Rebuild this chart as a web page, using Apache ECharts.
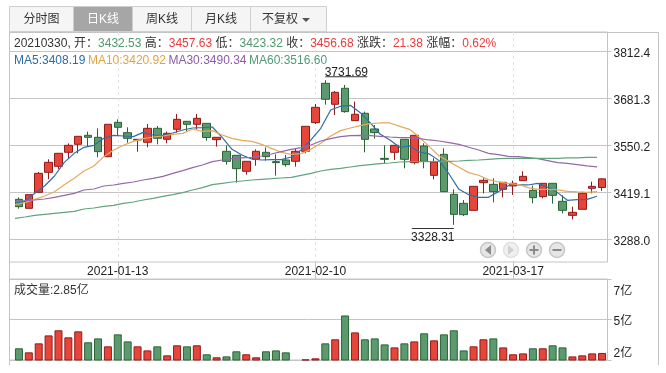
<!DOCTYPE html>
<html>
<head>
<meta charset="utf-8">
<script src="https://cdn.jsdelivr.net/npm/echarts@6/dist/echarts.min.js"></script>
<style>
  html, body { margin: 0; padding: 0; background: #fff; }
  #chart { width: 666px; height: 373px; }
</style>
</head>
<body>
<div id="chart"></div>
<script>
const dates = ["2020-12-29","2020-12-30","2020-12-31","2021-01-04","2021-01-05","2021-01-06","2021-01-07","2021-01-08","2021-01-11","2021-01-12",
  "2021-01-13","2021-01-14","2021-01-15","2021-01-18","2021-01-19","2021-01-20","2021-01-21","2021-01-22","2021-01-25","2021-01-26",
  "2021-01-27","2021-01-28","2021-01-29","2021-02-01","2021-02-02","2021-02-03","2021-02-04","2021-02-05","2021-02-08","2021-02-09",
  "2021-02-10","2021-02-18","2021-02-19","2021-02-22","2021-02-23","2021-02-24","2021-02-25","2021-02-26","2021-03-01","2021-03-02",
  "2021-03-03","2021-03-04","2021-03-05","2021-03-08","2021-03-09","2021-03-10","2021-03-11","2021-03-12","2021-03-15","2021-03-16",
  "2021-03-17","2021-03-18","2021-03-19","2021-03-22","2021-03-23","2021-03-24","2021-03-25","2021-03-26","2021-03-29","2021-03-30"]
const tickDates = ["2021-01-13", "2021-02-10", "2021-03-17"]

const opens = [3399.6,3374.5,3419.1,3474.9,3491.6,3530.7,3553,3578.1,3572.5,3518.6,
  3614.3,3585.5,3565,3558.6,3597.6,3566.9,3594.8,3617.1,3608.8,3611.5,
  3566,3533.5,3522.3,3477.7,3511.2,3530.7,3504.6,3509.3,3505.6,3533.5,
  3613.4,3723.1,3664.6,3709.2,3619,3639.5,3595.8,3513.9,3530.7,3566.9,
  3501.8,3548.3,3466.5,3525.1,3413.5,3388.4,3368.9,3446,3441.4,3427.5,
  3436.8,3451.6,3424.7,3407,3444.2,3394,3354.9,3371.7,3430.3,3432.53]
const closes = [3379.1,3412.6,3472.1,3502.8,3527.9,3550.2,3575.3,3572.5,3532.5,3608.8,
  3600.4,3569.7,3566.9,3597.6,3569.7,3583.7,3622.7,3608.8,3625.5,3572,
  3572.5,3505.6,3485.1,3505.6,3533.5,3518.6,3501.9,3496.3,3533.5,3603.2,
  3656.2,3678.5,3698,3644.1,3636.7,3566.9,3585.5,3511.2,3550.2,3511.2,
  3578.1,3505.6,3503.7,3421,3357.7,3356.8,3435.8,3452.6,3421,3447,
  3444.2,3463.7,3404.2,3444.2,3410.7,3368.9,3363.3,3416.3,3435.8,3456.68]
const lows = [3373.5,3374.5,3419.1,3455.4,3484.2,3513,3527.9,3548.3,3516.7,3516.7,
  3576.2,3557.6,3532.5,3544.6,3553,3555.8,3585.5,3588.3,3594.8,3563.2,
  3546.5,3496.3,3446,3468.4,3493.5,3507.4,3465.6,3490.7,3490.7,3527.9,
  3609.7,3663.6,3634.8,3641.3,3619,3530.7,3568.8,3500,3509.3,3486,
  3497.2,3486,3455.4,3421,3328.31,3353.1,3368.9,3416.3,3391.2,3405.2,
  3411.7,3451.6,3388.4,3402.4,3387.5,3360.5,3343.8,3371.7,3416.3,3423.32]
const highs = [3405.2,3412.6,3475.8,3511.1,3527.9,3555.8,3575.3,3588.3,3597.6,3608.8,
  3622.7,3600.4,3566.9,3609.7,3604.1,3588.3,3637.6,3617.1,3637.6,3611.5,
  3572.5,3550.2,3522.3,3505.6,3539,3544.6,3525,3523.2,3541.8,3603.2,
  3665.5,3731.69,3701.7,3718.5,3672,3644.1,3606.9,3550.2,3550.2,3566.9,
  3578.1,3555.8,3513.9,3541.8,3427.5,3397.7,3435.8,3458.2,3458.2,3447,
  3451.6,3477.7,3437.7,3444.2,3444.2,3410.7,3379.1,3420.9,3448.8,3457.63]

const ma5 = [3388.4,3394,3416.3,3436.7,3464.6,3502.7,3527.8,3544.6,3550.2,3569.7,
  3578.1,3576.2,3574.3,3586.4,3579,3578.1,3584.6,3592.9,3598.5,3599.4,
  3601.3,3572.5,3539,3523.2,3512.1,3509.3,3510.2,3510.2,3517.7,3537.2,
  3565.1,3597.6,3648.7,3659,3661.8,3641.3,3613.4,3581.8,3565.1,3544.6,
  3548.3,3531.6,3526.1,3507.5,3470.3,3427.5,3412.6,3405.2,3405.2,3421,
  3437.7,3439.6,3439.6,3444.2,3433.1,3418.2,3396.8,3398.7,3399.6,3408.19]
const ma10 = [3384.7,3390.3,3399.6,3408.8,3420.9,3440.5,3458.1,3478.6,3492.5,3518.6,
  3537.1,3550.2,3561.3,3568.8,3573.4,3576.2,3580.8,3583.6,3595.7,3589.2,
  3591.1,3579,3569.7,3564.1,3561.3,3553,3541.8,3530.7,3525.1,3527,
  3539,3555.8,3576.2,3591.1,3598.5,3605,3610.6,3612.5,3612.5,3603.2,
  3594.8,3572.5,3546.5,3520.5,3504.7,3488.9,3474,3466.6,3454.5,3448,
  3444.2,3441.5,3432.2,3427.5,3427.5,3425.7,3421.9,3420.1,3419.1,3420.92]
const ma30 = [3394,3395.8,3397.7,3400.5,3405.1,3410.7,3416.3,3425.6,3428.4,3436.7,
  3439.5,3444.2,3447.9,3453.5,3458.1,3463.7,3472.1,3479.5,3487.9,3495.3,
  3504.6,3509.3,3513,3514.9,3516.7,3520.4,3526,3532.5,3539,3543.7,
  3551.1,3562.3,3568.8,3574.4,3577.2,3578.1,3577.2,3575.3,3573.4,3571.6,
  3571.6,3568.8,3565.1,3562.3,3557.7,3553,3544.7,3537.2,3527.9,3524.2,
  3519.6,3518.6,3515.8,3513,3507.5,3501.9,3500,3496.3,3492.6,3490.34]
const ma60 = [3346.6,3350.3,3354.9,3357.7,3360.5,3363.3,3366.1,3372.6,3375.4,3380,
  3382.8,3388.4,3392.1,3397.7,3402.3,3407.9,3412.6,3418.1,3425.6,3432.1,
  3440.5,3444.2,3447.9,3450.7,3453.5,3455.4,3457.2,3459.1,3460.9,3466.5,
  3472.1,3478.6,3483.3,3486,3489.8,3493.5,3496.3,3499.1,3500.9,3503.7,
  3504.6,3504.7,3504.7,3505.6,3505.6,3506.5,3508.4,3509.3,3511.2,3513,
  3514,3514,3514,3514,3514,3514,3514.9,3514.9,3516.8,3516.6]

const volumes = [3.16,2.89,3.49,4.02,4.36,3.89,4.29,3.56,3.82,3.29,
  4.09,3.62,3.29,3.02,3.29,2.69,3.36,3.29,3.36,2.76,
  2.56,2.62,2.96,2.76,2.56,2.96,3.02,2.89,2.4,2.42,
  2.49,3.49,3.76,5.35,4.22,3.76,3.82,3.42,3.22,3.49,
  3.62,4.16,3.69,4.09,4.36,3.02,3.29,3.76,3.82,3.22,
  2.76,2.82,3.16,3.16,3.36,3.22,2.62,2.69,2.82,2.85]

const priceTicks = [3288, 3419.1, 3550.2, 3681.3, 3812.4]
const volumeTicks = [2.38, 5.08, 7.78]
const volumeLabels = [2.85, 5, 7]

const FONT = '"Liberation Sans", "Noto Sans CJK SC", sans-serif'
const RED = "#e64539"
const RED_DARK = "#8f1c1c"
const GREEN = "#5b9a6e"
const GREEN_DARK = "#2a6434"
const LINE = "#c4c4c4"
const TEXT = "#222"
const MA_COLORS = { ma5: "#2f6ea6", ma10: "#e6a85c", ma30: "#9568a9", ma60: "#62a37e" }

const candleData = dates.map((_, i) => [opens[i], closes[i], lows[i], highs[i]])
const volumeData = dates.map((_, i) => {
  const up = closes[i] >= opens[i]
  return {
    value: volumes[i],
    itemStyle: { color: up ? RED : GREEN, borderColor: up ? RED_DARK : GREEN_DARK },
  }
})

const last = dates.length - 1
const infoText = [
  "{k|" + dates[last].replace(/-/g, "") + ", 开：}{g|" + opens[last].toFixed(2) + "}",
  "{k| 高：}{r|" + highs[last].toFixed(2) + "}",
  "{k| 低：}{g|" + lows[last].toFixed(2) + "}",
  "{k| 收：}{r|" + closes[last].toFixed(2) + "}",
  "{k| 涨跌：}{r|21.38}{k| 涨幅：}{r|0.62%}",
].join("")
const maText = [
  "{a|MA5:" + ma5[last].toFixed(2) + "}",
  "{b|MA10:" + ma10[last].toFixed(2) + "}",
  "{c|MA30:" + ma30[last].toFixed(2) + "}",
  "{d|MA60:" + ma60[last].toFixed(2) + "}",
].join("")

const richStyle = (color, gap) => ({
  color,
  fontSize: 12,
  fontWeight: "normal",
  fontFamily: FONT,
  padding: [0, gap || 0, 0, 0],
})

// tabs above the chart
const tabs = [
  { name: "分时图", x: 9.5, w: 64 },
  { name: "日K线", x: 73.5, w: 59, active: true },
  { name: "周K线", x: 132.5, w: 59 },
  { name: "月K线", x: 191.5, w: 59 },
  { name: "不复权", x: 250.5, w: 76, tx: 280 },
]
const tabGraphics = []
tabs.forEach((t) => {
  tabGraphics.push({
    type: "rect",
    shape: { x: t.x, y: 6.5, width: t.w, height: 25 },
    style: { fill: t.active ? "#a6a6a6" : "#f5f5f5", stroke: "#cfcfcf", lineWidth: 1 },
    silent: true,
  })
  tabGraphics.push({
    type: "text",
    x: t.tx || t.x + t.w / 2,
    y: 20,
    style: {
      text: t.name,
      fill: t.active ? "#fff" : "#333",
      font: "12px " + FONT,
      textAlign: "center",
      textVerticalAlign: "middle",
    },
    silent: true,
  })
})
tabGraphics.push({
  type: "polygon",
  shape: { points: [[302, 18], [310, 18], [306, 22]] },
  style: { fill: "#555" },
  silent: true,
})

// round zoom and pan buttons
const buttons = [
  { x: 488, glyph: "left" },
  { x: 511, glyph: "right", faded: true },
  { x: 534, glyph: "plus" },
  { x: 557, glyph: "minus" },
]
const buttonGraphics = []
buttons.forEach((b) => {
  const ink = b.faded ? "#cfcfcf" : "#8a8a8a"
  buttonGraphics.push({
    type: "circle",
    shape: { cx: b.x, cy: 250, r: 7.5 },
    style: { fill: b.faded ? "#f0f0f0" : "#e6e6e6", stroke: b.faded ? "#e0e0e0" : "#c6c6c6", lineWidth: 1.5 },
    silent: true,
    z: 20,
  })
  if (b.glyph === "left") {
    buttonGraphics.push({ type: "polygon", shape: { points: [[b.x + 3, 245], [b.x + 3, 255], [b.x - 3, 250]] }, style: { fill: ink }, silent: true, z: 21 })
  } else if (b.glyph === "right") {
    buttonGraphics.push({ type: "polygon", shape: { points: [[b.x - 3, 245], [b.x - 3, 255], [b.x + 3, 250]] }, style: { fill: ink }, silent: true, z: 21 })
  } else {
    buttonGraphics.push({ type: "rect", shape: { x: b.x - 4.5, y: 249, width: 9, height: 2 }, style: { fill: ink }, silent: true, z: 21 })
    if (b.glyph === "plus") {
      buttonGraphics.push({ type: "rect", shape: { x: b.x - 1, y: 245.5, width: 2, height: 9 }, style: { fill: ink }, silent: true, z: 21 })
    }
  }
})

const frameLines = [
  [9.5, 32.5, 658.5, 32.5],
  [9.5, 32.5, 9.5, 365],
  [658.5, 32.5, 658.5, 365],
].map(([x1, y1, x2, y2]) => ({
  type: "line",
  shape: { x1, y1, x2, y2 },
  style: { stroke: LINE, lineWidth: 1 },
  silent: true,
}))

const maSeries = (name, data) => ({
  name,
  type: "line",
  xAxisIndex: 2,
  yAxisIndex: 2,
  data,
  symbol: "none",
  smooth: false,
  lineStyle: { color: MA_COLORS[name], width: 1.2 },
  z: 5,
})

const hiddenCategory = (gridIndex, boundaryGap) => ({
  type: "category",
  gridIndex,
  data: dates,
  boundaryGap,
  show: false,
})
const priceRange = { min: 3224.8, max: 3866.2 }
const volumeRange = { min: 2.38, max: 7.78 }

const chart = echarts.init(document.getElementById("chart"))
chart.setOption({
  animation: false,
  backgroundColor: "#fff",
  textStyle: { fontFamily: FONT },
  title: [
    {
      text: infoText,
      left: 14,
      top: 38,
      padding: 0,
      textStyle: {
        fontSize: 12,
        fontWeight: "normal",
        rich: { k: richStyle("#333"), g: richStyle("#4f9a70"), r: richStyle("#ee3a3a") },
      },
    },
    {
      text: maText,
      left: 14,
      top: 55,
      padding: 0,
      textStyle: {
        fontSize: 12,
        fontWeight: "normal",
        rich: {
          a: richStyle("#2b6ca8", 2.5),
          b: richStyle("#e6a23f", 2.5),
          c: richStyle("#8b5ca8", 2.5),
          d: richStyle("#4f9a7a"),
        },
      },
    },
    {
      text: "成交量:2.85亿",
      left: 14,
      top: 285,
      padding: 0,
      textStyle: { color: "#333", fontSize: 12, fontWeight: "normal", fontFamily: FONT },
    },
  ],
  grid: [
    { left: 9.5, width: 598, top: 32, height: 230, show: true, borderColor: LINE, borderWidth: 1, backgroundColor: "transparent" },
    { left: 14, width: 593, top: 32, height: 230 },
    { left: 15, width: 582, top: 32, height: 230 },
    { left: 9.5, width: 598, top: 279, height: 81, show: true, borderColor: LINE, borderWidth: 1, backgroundColor: "transparent" },
    { left: 14, width: 593, top: 279, height: 81 },
  ],
  xAxis: [
    hiddenCategory(0, true),
    {
      type: "category",
      gridIndex: 1,
      data: dates,
      axisLine: { show: false },
      axisTick: {
        show: true,
        alignWithLabel: true,
        length: 17,
        lineStyle: { color: LINE },
        interval: (i, v) => tickDates.includes(v),
      },
      axisLabel: {
        color: TEXT,
        fontSize: 12,
        fontFamily: FONT,
        margin: 4,
        interval: (i, v) => tickDates.includes(v),
      },
      splitLine: {
        show: true,
        alignWithLabel: true,
        interval: (i, v) => tickDates.includes(v),
        lineStyle: { color: "#e2e2e2", type: [3, 3] },
      },
    },
    hiddenCategory(2, false),
    hiddenCategory(3, true),
    hiddenCategory(4, true),
  ],
  yAxis: [
    {
      type: "value",
      gridIndex: 0,
      position: "right",
      ...priceRange,
      axisLine: { show: false },
      axisTick: { show: true, length: 4, lineStyle: { color: LINE }, customValues: priceTicks },
      axisLabel: {
        customValues: priceTicks,
        margin: 6,
        formatter: (v) => "{v|" + v.toFixed(1) + "}",
        rich: { v: { color: TEXT, fontSize: 12, fontFamily: FONT, padding: [4, 0, 0, 0] } },
      },
      splitLine: { show: true, lineStyle: { color: LINE } },
    },
    { type: "value", gridIndex: 1, ...priceRange, show: false, splitLine: { show: false } },
    { type: "value", gridIndex: 2, ...priceRange, show: false, splitLine: { show: false } },
    {
      type: "value",
      gridIndex: 3,
      position: "right",
      ...volumeRange,
      axisLine: { show: false },
      axisTick: { show: true, length: 4, lineStyle: { color: LINE }, customValues: volumeTicks },
      axisLabel: {
        customValues: volumeLabels,
        margin: 6,
        formatter: (v) => "{v|" + Math.floor(v) + "亿}",
        rich: { v: { color: TEXT, fontSize: 12, fontFamily: FONT, padding: [2, 0, 0, 0] } },
      },
      splitLine: { show: true, lineStyle: { color: LINE } },
    },
    { type: "value", gridIndex: 4, ...volumeRange, show: false, splitLine: { show: false } },
  ],
  graphic: [...frameLines, ...tabGraphics, ...buttonGraphics],
  series: [
    {
      name: "K",
      type: "candlestick",
      xAxisIndex: 1,
      yAxisIndex: 1,
      data: candleData,
      barWidth: 8,
      itemStyle: {
        color: RED,
        color0: GREEN,
        borderColor: RED_DARK,
        borderColor0: GREEN_DARK,
        borderWidth: 1,
      },
      markPoint: {
        silent: true,
        animation: false,
        symbol: "rect",
        itemStyle: { color: "#333" },
        data: [
          {
            coord: [31, 3731.69],
            symbolSize: [42, 1],
            symbolOffset: [21, -3.5],
            label: { show: true, formatter: "3731.69", position: "top", distance: -2, color: TEXT, fontSize: 12, fontFamily: FONT },
          },
          {
            coord: [44, 3328.31],
            symbolSize: [42, 1],
            symbolOffset: [-21, 3.5],
            label: { show: true, formatter: "3328.31", position: "bottom", distance: 3, color: TEXT, fontSize: 12, fontFamily: FONT },
          },
        ],
      },
    },
    maSeries("ma5", ma5),
    maSeries("ma10", ma10),
    maSeries("ma30", ma30),
    maSeries("ma60", ma60),
    {
      name: "volume",
      type: "bar",
      xAxisIndex: 4,
      yAxisIndex: 4,
      data: volumeData,
      barWidth: 8,
      itemStyle: { borderWidth: 1 },
    },
  ],
})
</script>
</body>
</html>
